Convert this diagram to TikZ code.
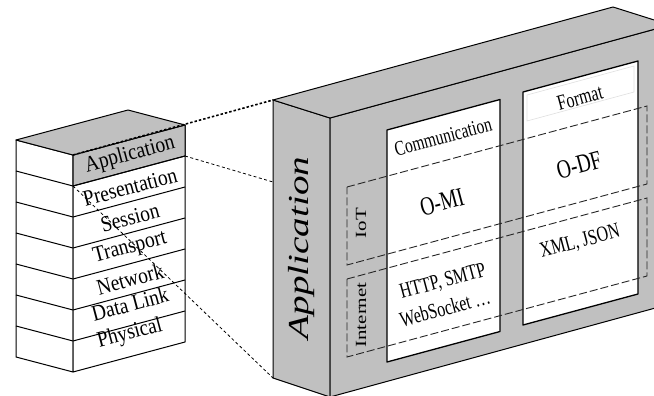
\documentclass[tikz,border=0pt]{standalone}
\usepackage{fontspec}
\setmainfont{Liberation Serif}
\definecolor{boxgray}{RGB}{192,192,192}
\newcommand{\vstr}[2]{\scalebox{1}[#1]{#2}}
\newcommand{\hstr}[2]{\scalebox{#1}[1]{#2}}
\tikzset{
  face/.style={draw=black, line width=1pt, line join=round},
  gface/.style={face, fill=boxgray},
  wface/.style={face, fill=white},
  inbox/.style={draw=black, line width=1.3pt, fill=white, line join=round},
  faintbox/.style={draw=black!12, line width=0.6pt},
  zone/.style={draw=black!85, line width=0.9pt, dash pattern=on 8pt off 3pt},
  lnk/.style={draw=black, line width=0.8pt, dash pattern=on 3pt off 2.5pt},
  lnkbold/.style={draw=black, line width=1.6pt, dash pattern=on 2.5pt off 2pt},
  stacklbl/.style={inner sep=0pt, rotate=15, font=\fontsize{19.5}{20}\selectfont},
  boxlbl/.style={inner sep=0pt, rotate=15, font=\fontsize{16}{17}\selectfont},
  biglbl/.style={inner sep=0pt, rotate=15, font=\fontsize{19.5}{20}\selectfont},
  zonelbl/.style={inner sep=0pt, rotate=90, font=\fontsize{15.5}{16}\selectfont},
  titlelbl/.style={inner sep=0pt, rotate=90, font=\fontsize{29}{30}\selectfont\itshape},
}
\begin{document}
\begin{tikzpicture}[x=1pt,y=-1pt]
\useasboundingbox (0,0) rectangle (654,396);
\clip (0,0) rectangle (654,396);

% ---------- OSI stack ----------
\coordinate (sLT) at (16,140);
\coordinate (sFT) at (73,155);
\coordinate (sRT) at (185,125);
\coordinate (sBT) at (128,110);
\coordinate (sLB) at (16,357);
\coordinate (sFB) at (73,372);
\coordinate (sRB) at (185,342);
\coordinate (aFB) at (73,186);
\coordinate (aRB) at (185,156);

\path[wface] (sLT)--(sFT)--(sFB)--(sLB)--cycle;
\path[wface] (sFT)--(sRT)--(sRB)--(sFB)--cycle;
\path[gface] (sFT)--(sRT)--(aRB)--(aFB)--cycle;
\path[gface] (sLT)--(sFT)--(sRT)--(sBT)--cycle;
\foreach \k in {1,...,6}
  \draw[face] (16,140+31*\k)--(73,155+31*\k)--(185,125+31*\k);

\node[stacklbl] (lApp) at (130,155) {\vstr{1.15}{Application}};
\node[stacklbl] (lPre) at (130,187) {\vstr{1.15}{Presentation}};
\node[stacklbl] (lSes) at (130,218) {\vstr{1.15}{Session}};
\node[stacklbl] (lTra) at (130,248) {\vstr{1.15}{Transport}};
\node[stacklbl] (lNet) at (130,279) {\vstr{1.15}{Network}};
\node[stacklbl] (lDat) at (130,304) {\vstr{1.15}{Data Link}};
\node[stacklbl] (lPhy) at (130,334) {\vstr{1.15}{Physical}};

% ---------- Application box ----------
\coordinate (bLT) at (273,100);
\coordinate (bFT) at (330,118);
\coordinate (bRT) at (670,25);
\coordinate (bBT) at (613,7);
\coordinate (bLB) at (273,378);
\coordinate (bFB) at (330,397);
\coordinate (bRB) at (670,304);
\coordinate (bLM) at (273,182);

\path[gface] (bLT)--(bFT)--(bFB)--(bLB)--cycle;
\path[gface] (bFT)--(bRT)--(bRB)--(bFB)--cycle;
\path[gface] (bLT)--(bFT)--(bRT)--(bBT)--cycle;

\node[titlelbl] (tApp) at (302,248) {\hstr{1.35}{Application}};

% inner boxes
\path[inbox] (387,130)--(500,99.5)--(500,331.5)--(387,362)--cycle;
\path[inbox] (523,92)--(638,61)--(638,294)--(523,325)--cycle;
\draw[faintbox] (527,95)--(634,66)--(634,92)--(527,121)--cycle;

% zones
\draw[zone] (347,187)--(647,106)--(647,184)--(347,265)--cycle;
\draw[zone] (347,279)--(647,198)--(647,276)--(347,357)--cycle;

\node[zonelbl] (zIoT) at (361,223) {\hstr{1.35}{IoT}};
\node[zonelbl] (zInt) at (361,315) {\hstr{1.35}{Internet}};

\node[boxlbl, font=\fontsize{15.5}{16}\selectfont] (tCom) at (443,137) {\vstr{1.35}{Communication}};
\node[biglbl] (tOMI) at (442,202) {\vstr{1.35}{O-MI}};
\node[boxlbl] (tHTTP) at (443,282) {\vstr{1.35}{HTTP, SMTP}};
\node[boxlbl] (tWS) at (445,308) {\vstr{1.35}{WebSocket …}};
\node[boxlbl] (tFor) at (580,98) {\vstr{1.35}{Format}};
\node[biglbl] (tODF) at (579,165) {\vstr{1.35}{O-DF}};
\node[boxlbl] (tXML) at (580,242) {\vstr{1.35}{XML, JSON}};

% ---------- connectors ----------
\draw[lnkbold] (sFT) -- (bLT);
\draw[lnk] (aRB) -- (bLM);
\draw[lnk] (aFB) -- (bLB);
\end{tikzpicture}
\end{document}
